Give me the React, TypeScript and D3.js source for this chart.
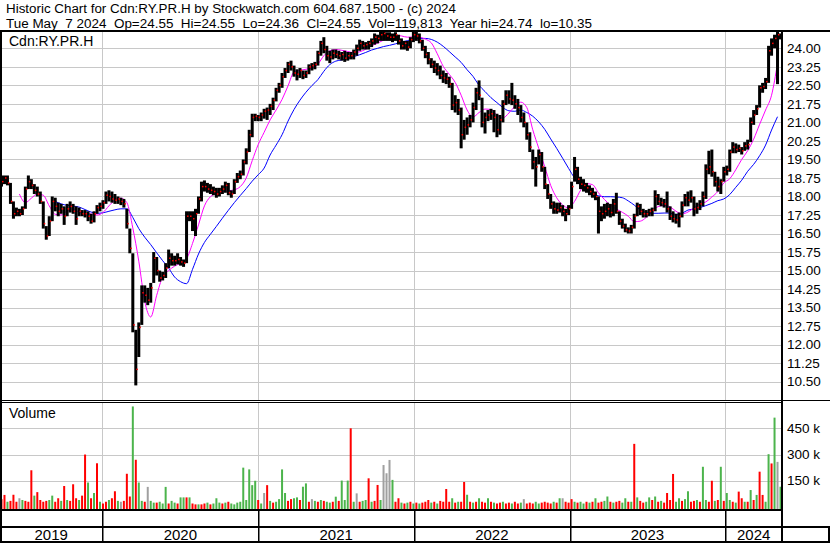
import React from "react";
import * as d3 from "d3";

const WIDTH = 830;
const HEIGHT = 543;
const PLOT_RIGHT = 782;
const PRICE_TOP = 32;
const PRICE_BOTTOM = 400;
const VOL_TOP = 403;
const VOL_BOTTOM = 509;
const FONT = "'Liberation Sans', Arial, sans-serif";

const START = new Date(2019, 4, 6);
const END = new Date(2024, 4, 13);

const HEADER_1 = "Historic Chart for Cdn:RY.PR.H by Stockwatch.com 604.687.1500 - (c) 2024";
const HEADER_2 = "Tue May  7 2024  Op=24.55  Hi=24.55  Lo=24.36  Cl=24.55  Vol=119,813  Year hi=24.74  lo=10.35";

const PRICE_TICKS = [10.5, 11.25, 12, 12.75, 13.5, 14.25, 15, 15.75, 16.5, 17.25, 18, 18.75, 19.5, 20.25, 21, 21.75, 22.5, 23.25, 24];
const VOL_TICKS = [150000, 300000, 450000];
const YEAR_LABELS = ["2019", "2020", "2021", "2022", "2023", "2024"];

// weekly bars, first week starts Mon May 6 2019
const HIGH = [
  18.85,18.85,18.85,18.55,17.80,17.55,17.50,17.60,18.40,18.85,
  18.70,18.50,18.40,18.20,17.80,16.80,17.20,18.00,17.95,17.75,
  17.70,17.60,17.70,17.80,17.70,17.60,17.55,17.45,17.45,17.40,
  17.30,17.40,17.65,17.75,17.85,18.20,18.25,18.20,18.10,18.00,
  17.95,17.90,17.50,16.70,15.70,12.60,12.90,14.40,14.40,14.30,
  14.50,15.75,15.55,15.00,14.95,15.30,15.85,15.70,15.60,15.70,
  15.55,15.45,17.40,17.40,17.40,17.50,18.00,18.60,18.65,18.55,
  18.50,18.40,18.35,18.35,18.45,18.60,18.55,18.25,18.70,18.95,
  19.05,19.50,19.95,20.70,21.35,21.35,21.30,21.40,21.55,21.60,
  21.75,22.00,22.40,22.60,23.00,23.20,23.45,23.50,23.30,23.15,
  23.20,23.10,23.10,23.35,23.40,23.45,23.90,24.30,24.45,24.10,
  23.90,23.95,23.95,23.90,23.85,23.90,23.85,23.85,23.95,24.15,
  24.35,24.30,24.25,24.30,24.40,24.60,24.55,24.70,24.74,24.65,
  24.65,24.60,24.65,24.55,24.40,24.30,24.30,24.45,24.70,24.70,
  24.60,24.35,24.10,23.85,23.60,23.50,23.40,23.30,23.10,23.00,
  22.85,22.60,22.10,21.95,21.60,21.10,21.20,21.30,21.80,22.40,
  22.70,22.00,21.40,21.50,21.55,21.50,21.35,21.30,21.90,22.30,
  22.30,22.60,22.10,21.95,21.70,21.40,21.00,20.60,19.90,19.60,
  19.90,19.80,19.20,18.50,18.10,17.80,17.75,17.75,17.65,17.50,
  17.65,18.60,19.60,19.20,18.80,18.70,18.55,18.45,18.35,18.20,
  18.00,17.60,17.70,17.75,17.70,17.90,18.15,17.40,17.10,16.90,
  16.75,16.85,17.30,17.75,17.70,17.50,17.45,17.50,17.55,18.25,
  18.10,17.95,17.90,18.20,17.60,17.40,17.30,17.35,17.80,18.10,
  18.20,18.25,18.00,17.75,17.85,18.20,19.30,19.85,19.90,19.00,
  18.80,18.70,19.20,19.25,19.90,20.20,20.15,20.10,20.00,20.20,
  20.30,21.20,21.50,21.70,22.50,22.60,22.80,24.10,24.40,24.55,24.74,24.60,
];
const LOW = [
  18.40,18.50,18.45,17.70,17.10,17.20,17.20,17.25,17.50,18.30,
  18.30,18.10,18.00,17.70,16.70,16.25,16.40,17.00,17.40,17.20,
  17.30,16.85,17.20,17.35,17.30,16.85,17.20,17.20,17.15,17.00,
  16.90,16.95,17.30,17.40,17.50,17.70,17.80,17.75,17.70,17.70,
  17.65,17.55,16.70,15.70,12.50,10.35,11.50,12.80,13.70,13.60,
  13.70,14.50,14.80,14.55,14.60,14.70,15.10,15.20,15.20,15.25,
  15.20,15.15,15.30,17.00,16.60,16.40,17.30,17.80,18.20,18.15,
  18.10,18.05,17.95,18.00,18.10,18.15,18.05,17.95,18.10,18.55,
  18.70,18.85,19.30,19.80,20.40,21.05,21.05,21.05,21.15,21.10,
  21.30,21.50,21.85,22.20,22.40,22.80,23.00,23.10,22.85,22.70,
  22.80,22.75,22.80,22.95,23.10,23.15,23.30,23.70,23.80,23.50,
  23.40,23.55,23.60,23.55,23.50,23.45,23.50,23.55,23.55,23.70,
  23.90,23.95,23.95,23.95,24.05,24.15,24.20,24.30,24.30,24.30,
  24.30,24.25,24.30,24.15,23.95,23.95,23.90,24.00,24.25,24.30,
  24.20,23.90,23.60,23.35,23.20,23.00,22.90,22.75,22.60,22.55,
  22.40,21.50,21.40,21.30,19.95,20.30,20.50,20.80,21.00,21.50,
  21.90,20.80,20.55,21.05,21.10,20.60,20.40,20.50,21.00,21.70,
  21.75,21.70,21.55,21.30,21.00,20.80,20.30,19.80,19.10,18.40,
  19.30,19.00,18.30,17.90,17.50,17.30,17.30,17.35,17.20,17.00,
  17.25,17.50,18.60,18.50,18.30,18.20,18.15,18.05,17.95,17.85,
  16.50,17.00,17.10,17.20,17.15,17.20,17.30,16.85,16.70,16.55,
  16.50,16.50,16.70,17.20,17.25,17.15,17.15,17.20,17.20,17.40,
  17.65,17.60,17.55,17.35,17.05,16.95,16.90,16.75,17.15,17.60,
  17.60,17.75,17.20,17.30,17.45,17.60,17.90,18.90,18.80,18.40,
  18.20,18.10,18.60,18.85,19.00,19.75,19.75,19.80,19.70,19.85,
  19.90,20.20,20.90,21.30,21.60,22.20,22.35,22.60,23.70,24.00,22.55,24.36,
];
const CLOSE = [
  18.60,18.75,18.55,17.80,17.30,17.40,17.30,17.50,18.30,18.60,
  18.45,18.25,18.10,17.80,16.90,16.40,17.00,17.80,17.60,17.40,
  17.50,17.20,17.50,17.60,17.40,17.10,17.40,17.30,17.30,17.20,
  17.00,17.30,17.55,17.60,17.75,18.05,18.00,17.90,17.85,17.90,
  17.80,17.70,16.90,15.90,12.80,11.00,12.70,14.10,14.00,13.80,
  14.30,15.50,15.00,14.70,14.80,15.10,15.50,15.40,15.40,15.45,
  15.35,15.30,17.20,17.20,17.10,17.30,17.90,18.40,18.40,18.30,
  18.25,18.20,18.10,18.20,18.30,18.45,18.15,18.10,18.60,18.80,
  18.90,19.40,19.80,20.50,21.20,21.25,21.20,21.30,21.45,21.50,
  21.65,21.90,22.30,22.50,22.85,23.10,23.35,23.25,23.00,22.95,
  23.10,22.90,23.00,23.25,23.30,23.35,23.80,24.20,23.95,23.70,
  23.65,23.80,23.75,23.70,23.75,23.60,23.70,23.70,23.85,24.00,
  24.20,24.10,24.15,24.20,24.30,24.45,24.40,24.55,24.60,24.50,
  24.45,24.45,24.55,24.30,24.10,24.20,24.05,24.35,24.55,24.50,
  24.30,24.00,23.75,23.55,23.35,23.20,23.10,22.90,22.80,22.75,
  22.55,21.70,21.80,21.50,20.50,20.80,20.90,21.10,21.60,22.20,
  22.10,21.00,21.20,21.30,21.35,21.20,20.70,21.10,21.75,22.10,
  21.95,21.90,21.75,21.60,21.20,21.00,20.50,20.00,19.40,19.20,
  19.70,19.20,18.50,18.10,17.70,17.50,17.45,17.55,17.40,17.30,
  17.50,18.40,19.10,18.70,18.50,18.45,18.35,18.20,18.10,18.00,
  17.40,17.30,17.40,17.50,17.35,17.70,17.40,17.00,16.80,16.65,
  16.60,16.75,17.20,17.60,17.40,17.30,17.30,17.40,17.45,18.00,
  17.80,17.75,17.70,17.50,17.20,17.10,17.05,17.20,17.65,17.95,
  17.85,17.95,17.50,17.55,17.70,18.00,19.10,19.20,19.00,18.60,
  18.40,18.60,19.00,19.10,19.80,20.00,19.90,19.95,19.85,20.05,
  20.10,21.00,21.30,21.55,22.40,22.45,22.65,23.90,24.20,24.40,24.55,24.55,
];
// weekly volume in thousands of shares
const VOLUME_K = [
  45,69,30,35,70,30,50,40,35,30,
  210,65,85,40,30,35,40,65,30,50,
  35,120,40,35,130,50,40,65,300,140,
  50,80,250,30,20,30,40,50,90,35,
  30,35,190,60,575,270,140,35,30,115,
  35,25,25,30,20,115,20,35,25,20,
  55,55,55,55,20,15,15,15,20,25,
  15,20,50,25,20,25,30,20,15,25,
  30,225,40,215,125,150,40,20,80,125,
  35,25,30,45,215,80,35,45,50,55,
  40,116,135,30,45,35,30,40,35,30,
  25,30,59,35,151,40,151,450,30,78,
  30,35,40,164,30,35,126,40,240,193,
  269,155,30,50,25,20,25,30,20,25,
  20,25,30,40,25,30,20,35,30,103,
  30,50,25,30,30,143,70,30,25,30,
  50,30,25,50,30,25,20,25,30,20,
  25,20,30,20,25,45,20,25,20,30,
  20,25,30,25,20,30,25,50,50,30,
  25,45,30,25,30,20,30,25,30,50,
  25,30,35,60,30,25,30,35,25,50,
  30,30,361,55,35,25,30,55,40,60,
  30,35,25,80,40,189,30,50,35,45,
  90,30,35,40,30,230,40,30,150,35,
  40,230,35,80,40,30,25,88,50,30,
  30,97,40,69,202,69,30,302,249,511,258,116,
];
// g = up, r = down, n = unchanged
const VOLUME_DIR = [
  "rrgrrrngrr", "rgrrrrggrr", "grgrrrgrrg", "rgrgrrgrrg", "nrrrgrggrn",
  "ggrgggrggr", "ggrgrrgrrg", "rgggrgrggg", "ggggggrgnr", "grggggrrgg",
  "rggrngrgrg", "grgrgggrgn", "rggrgrrgnn", "ngrrgrgrgr", "grrrgrgrrr",
  "rgrgrrgrgr", "grrgrgrrgr", "rgrrgnrrrg", "grrrrgrgnr", "rrgrggrgrg",
  "rrggrgrrgg", "rgrgrrggrg", "rgrrrrggrg", "grrgrggrrg", "rgrggrgrrg",
  "rgrgrrggrgng",
].join("");

// moving averages, every second week
const FAST_MA_START = 6;
const FAST_MA = [
  18.10,17.75,17.93,18.10,18.05,17.62,17.28,17.25,17.42,17.50,
  17.36,17.30,17.29,17.25,17.35,17.62,17.85,17.93,17.75,16.72,
  15.38,13.75,13.12,14.00,14.75,15.00,15.18,15.30,15.48,16.10,
  16.85,17.62,17.99,18.12,18.19,18.23,18.27,18.40,18.75,19.45,
  20.10,20.60,21.10,21.50,21.93,22.48,23.04,23.11,23.15,23.21,
  23.36,23.70,23.90,23.95,23.92,23.87,23.83,23.86,23.96,24.10,
  24.21,24.33,24.44,24.52,24.50,24.45,24.46,24.45,24.37,24.22,
  23.78,23.27,22.95,22.62,22.10,21.50,21.22,21.40,21.54,21.52,
  21.30,21.18,21.38,21.65,21.82,21.60,20.70,19.95,19.21,18.45,
  17.95,17.66,17.54,17.80,18.25,18.52,18.48,18.15,17.88,17.65,
  17.49,17.36,17.20,16.98,17.00,17.15,17.40,17.59,17.64,17.58,
  17.40,17.30,17.37,17.54,17.70,17.78,17.98,18.20,18.55,18.72,
  19.08,19.50,19.85,20.32,20.92,21.50,22.10,23.40,
];
const SLOW_MA_START = 18;
const SLOW_MA = [
  17.80,17.70,17.64,17.61,17.57,17.47,17.37,17.32,17.34,17.40,
  17.46,17.50,17.50,17.15,16.70,16.35,16.05,15.72,15.40,15.10,
  14.74,14.55,14.47,15.05,15.67,16.14,16.47,16.79,17.12,17.44,
  17.75,18.04,18.32,18.62,18.88,19.15,19.68,20.08,20.50,21.05,
  21.52,21.90,22.22,22.49,22.73,23.07,23.34,23.48,23.53,23.59,
  23.66,23.74,23.83,23.93,24.00,24.07,24.12,24.18,24.25,24.31,
  24.37,24.40,24.40,24.36,24.25,24.08,23.87,23.65,23.43,23.13,
  22.86,22.50,22.25,22.00,21.80,21.60,21.47,21.45,21.50,21.40,
  21.25,21.02,20.72,20.33,19.95,19.55,19.14,18.75,18.50,18.28,
  18.10,18.03,17.99,17.99,17.98,17.95,17.82,17.65,17.46,17.35,
  17.32,17.32,17.33,17.33,17.27,17.32,17.45,17.49,17.55,17.63,
  17.72,17.83,17.90,18.08,18.37,18.66,19.02,19.30,19.65,20.08,
  20.69,21.23,
];

const GRID = "#c8c8c8";
const UP = "#4cb44c";
const DOWN = "#ff0000";
const FLAT = "#a0a0a0";

export default function App() {
  const x = d3.scaleTime().domain([START, END]).range([0, PLOT_RIGHT]);
  const y = d3.scaleLinear().domain([10.5, 24]).range([381.7, 48.3]);
  const yVol = d3.scaleLinear().domain([0, 450000]).range([507, 428.3]);

  const weekMid = (i: number) => x(d3.timeHour.offset(d3.timeDay.offset(START, 7 * i), 84));

  const fastLine = d3
    .line<number>()
    .x((_, i) => weekMid(FAST_MA_START + 2 * i))
    .y((d) => y(d))
    .curve(d3.curveMonotoneX);
  const slowLine = d3
    .line<number>()
    .x((_, i) => weekMid(SLOW_MA_START + 2 * i))
    .y((d) => y(d))
    .curve(d3.curveMonotoneX);

  const dividers = d3.timeYear.range(d3.timeDay.offset(START, 1), END).map((d) => x(d));
  const yearBounds = [x(START), ...dividers, PLOT_RIGHT];

  const dirColor = (c: string) => (c === "g" ? UP : c === "r" ? DOWN : FLAT);

  return (
    <svg width={WIDTH} height={HEIGHT} style={{ display: "block", position: "absolute", left: 0, top: 0 }} fontFamily={FONT}>
      <rect width={WIDTH} height={HEIGHT} fill="#fff" />
      <defs>
        <clipPath id="priceClip">
          <rect x={0} y={PRICE_TOP} width={PLOT_RIGHT} height={PRICE_BOTTOM - PRICE_TOP} />
        </clipPath>
      </defs>

      {/* header */}
      <text x={6} y={13} fontSize={12.5} textLength={450} lengthAdjust="spacingAndGlyphs">{HEADER_1}</text>
      <text x={6} y={27.5} fontSize={12.5} textLength={586} lengthAdjust="spacingAndGlyphs" style={{ whiteSpace: "pre" }}>
        {HEADER_2}
      </text>

      {/* grids */}
      {PRICE_TICKS.map((t) => (
        <line key={t} x1={0} x2={PLOT_RIGHT} y1={Math.round(y(t)) + 0.5} y2={Math.round(y(t)) + 0.5} stroke={GRID} />
      ))}
      {dividers.map((d, i) => (
        <line key={i} x1={Math.round(d) + 0.5} x2={Math.round(d) + 0.5} y1={PRICE_TOP} y2={PRICE_BOTTOM} stroke={GRID} />
      ))}
      {VOL_TICKS.map((t) => (
        <line key={t} x1={0} x2={PLOT_RIGHT} y1={Math.round(yVol(t)) + 0.5} y2={Math.round(yVol(t)) + 0.5} stroke={GRID} />
      ))}
      {dividers.map((d, i) => (
        <line key={i} x1={Math.round(d) + 0.5} x2={Math.round(d) + 0.5} y1={VOL_TOP} y2={VOL_BOTTOM} stroke={GRID} />
      ))}

      {/* moving averages */}
      <path d={slowLine(SLOW_MA) || ""} fill="none" stroke="#0000ff" strokeWidth={1} />
      <path d={fastLine(FAST_MA) || ""} fill="none" stroke="#ff00ff" strokeWidth={1} />

      {/* price bars */}
      <g clipPath="url(#priceClip)">
        {HIGH.map((h, i) => (
          <rect key={i} x={weekMid(i) - 1.5} width={3} y={y(h)} height={Math.max(1, y(LOW[i]) - y(h))} fill="#000" />
        ))}
        {CLOSE.map((c, i) => (
          <rect key={i} x={weekMid(i) + 0.5} width={1.5} y={y(c) - 0.75} height={1.5} fill="#ff0000" />
        ))}
      </g>

      {/* volume bars */}
      {VOLUME_K.map((v, i) => (
        <rect
          key={i}
          x={weekMid(i) - 1}
          width={2}
          y={yVol(v * 1000)}
          height={VOL_BOTTOM - yVol(v * 1000)}
          fill={dirColor(VOLUME_DIR[i])}
        />
      ))}

      {/* labels inside panels */}
      <text x={9} y={46} fontSize={14}>Cdn:RY.PR.H</text>
      <text x={9} y={418} fontSize={14}>Volume</text>

      {/* right axis */}
      {PRICE_TICKS.map((t) => (
        <text key={t} x={787} y={y(t)} dy="0.35em" fontSize={13.5}>
          {t.toFixed(2)}
        </text>
      ))}
      {VOL_TICKS.map((t) => (
        <text key={t} x={787} y={yVol(t)} dy="0.35em" fontSize={13.5}>
          {`${t / 1000} k`}
        </text>
      ))}

      {/* frame */}
      <rect x={0} y={30} width={WIDTH} height={2} fill="#000" />
      <rect x={0} y={30} width={2} height={HEIGHT - 30} fill="#000" />
      <rect x={781} y={30} width={2} height={HEIGHT - 30} fill="#000" />
      <rect x={0} y={400} width={WIDTH} height={1} fill="#000" />
      <rect x={0} y={402} width={PLOT_RIGHT} height={1} fill="#000" />
      <rect x={0} y={509} width={PLOT_RIGHT} height={2} fill="#000" />
      <rect x={0} y={526} width={WIDTH} height={2} fill="#000" />
      <rect x={0} y={541} width={WIDTH} height={2} fill="#000" />
      <rect x={828} y={526} width={2} height={17} fill="#000" />
      {dividers.map((d, i) => (
        <rect key={i} x={Math.round(d)} y={509} width={1.5} height={34} fill="#000" />
      ))}

      {/* year labels */}
      {YEAR_LABELS.map((yr, i) => (
        <text key={yr} x={(yearBounds[i] + yearBounds[i + 1]) / 2} y={540} fontSize={15} textAnchor="middle">
          {yr}
        </text>
      ))}
    </svg>
  );
}
